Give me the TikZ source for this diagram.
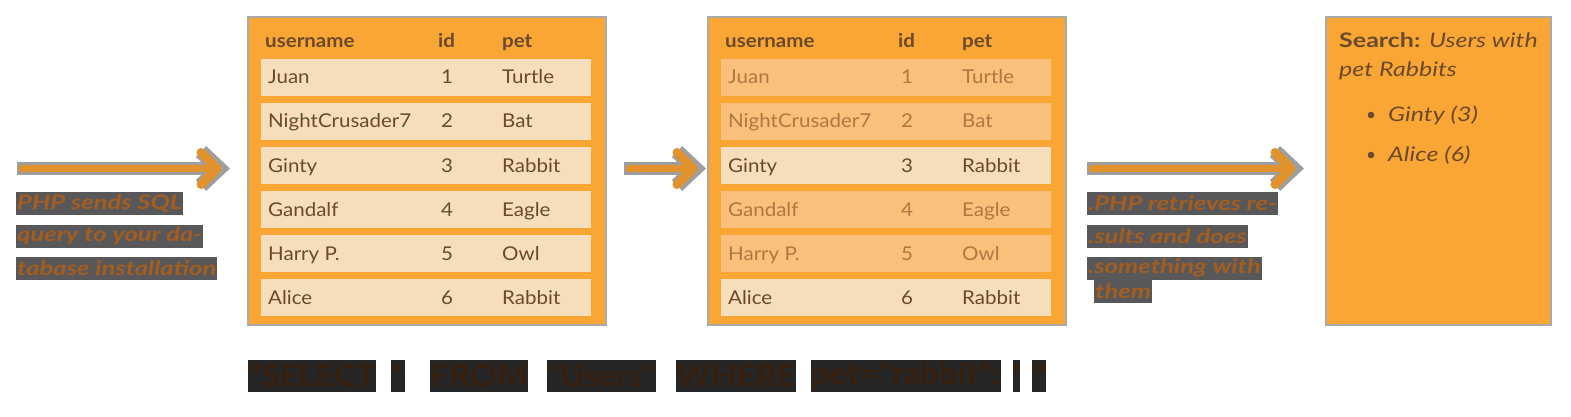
\documentclass[tikz,border=0pt]{standalone}
\usepackage{fontspec}
\setmainfont{Lato}
\newfontfamily\tabfont[FakeStretch=1.08]{Lato}
\newfontfamily\resfont[FakeStretch=1.25]{Lato}
\newfontfamily\capfont[FakeStretch=1.28]{Lato}
\newfontfamily\sqlfont[FakeStretch=1.1]{Lato}
\usetikzlibrary{calc}
\definecolor{org}{HTML}{F9A634}
\definecolor{frame}{HTML}{AAAAAA}
\definecolor{rowlight}{HTML}{F6DDBB}
\definecolor{rowfade}{HTML}{F8C07A}
\definecolor{txt}{HTML}{6B4A2C}
\definecolor{txtfade}{HTML}{AE7840}
\definecolor{arrorg}{HTML}{E2922C}
\definecolor{arrgray}{HTML}{9E9E9E}
\definecolor{capgray}{HTML}{58585A}
\definecolor{captxt}{HTML}{A35E20}
\definecolor{sqlbg}{HTML}{262626}
\definecolor{sqltxt}{HTML}{35200F}
\tikzset{
  panel/.style={draw=frame,line width=2pt,fill=org,minimum width=358pt,minimum height=308pt,inner sep=0pt},
  cell/.style={anchor=base west,inner sep=0pt,font=\tabfont\fontsize{19}{21}\selectfont,text=txt},
  fcell/.style={cell,text=txtfade},
  hcell/.style={cell,font=\tabfont\fontsize{19}{21}\selectfont\bfseries},
  capline/.style={anchor=west,fill=capgray,text=captxt,inner xsep=1pt,inner ysep=0pt,minimum height=23pt,font=\capfont\fontsize{20}{22}\selectfont\itshape\bfseries},
  sqlword/.style={anchor=west,fill=sqlbg,text=sqltxt,inner xsep=0pt,inner ysep=0pt,minimum height=32pt,font=\sqlfont\fontsize{30}{32}\selectfont\bfseries},
  restxt/.style={anchor=base west,inner sep=0pt,text=txt,font=\resfont\fontsize{20}{22}\selectfont}
}
\newcommand\fatarrow[2]{%
  \draw[arrgray,line width=13pt] (#1) -- ($(#2)+(-8,0)$);
  \draw[arrgray,line width=15pt,line join=miter] ($(#2)+(-22,-17)$) -- ($(#2)+(-4,0)$) -- ($(#2)+(-22,17)$);
  \draw[arrorg,line width=7pt,line cap=round] ($(#1)+(5,0)$) -- ($(#2)+(-10,0)$);
  \draw[arrorg,line width=9pt,line cap=round,line join=round] ($(#2)+(-22,-16)$) -- ($(#2)+(-6,0)$) -- ($(#2)+(-22,16)$);
}
\begin{document}
\begin{tikzpicture}[x=1pt,y=-1pt]
\useasboundingbox (0,0) rectangle (1571,417);
% panels
\node[panel] (t1) at (427,171) {};
\node[panel] (t2) at (887,171) {};
\node[panel,minimum width=225pt] (res) at (1438.5,171) {};
% table headers
\node[hcell] (h1u) at (265,48) {username};
\node[hcell] (h1i) at (438,48) {id};
\node[hcell] (h1p) at (502,48) {pet};
\node[hcell] (h2u) at (725,48) {username};
\node[hcell] (h2i) at (898,48) {id};
\node[hcell] (h2p) at (962,48) {pet};
\foreach \n/\id/\pet/\sty [count=\k from 0] in {Juan/1/Turtle/fcell,NightCrusader7/2/Bat/fcell,Ginty/3/Rabbit/cell,Gandalf/4/Eagle/fcell,Harry P./5/Owl/fcell,Alice/6/Rabbit/cell}{
  \pgfmathsetmacro\top{59+44*\k}
  \fill[rowlight] (261,\top) rectangle ++(330,37);
  \node[cell] (a\k n) at (268,\top+25) {\n};
  \node[cell] (a\k i) at (441,\top+25) {\id};
  \node[cell] (a\k p) at (502,\top+25) {\pet};
  \edef\rc{\ifnum\pdfstrcmp{\sty}{cell}=0 rowlight\else rowfade\fi}
  \fill[\rc] (721,\top) rectangle ++(330,37);
  \node[\sty] (b\k n) at (728,\top+25) {\n};
  \node[\sty] (b\k i) at (901,\top+25) {\id};
  \node[\sty] (b\k p) at (962,\top+25) {\pet};
}
% result box
\node[restxt] (r1) at (1339,48) {\textbf{Search:} \textit{Users with}};
\node[restxt] (r2) at (1339,77) {\textit{pet Rabbits}};
\fill[txt] (1371,115) circle (3.3pt);
\node[restxt] (r3) at (1388,122) {\textit{Ginty (3)}};
\fill[txt] (1371,155) circle (3.3pt);
\node[restxt] (r4) at (1388,161) {\textit{Alice (6)}};
% arrows
\coordinate (s1) at (17,168.5);
\coordinate (e1) at ($(t1.west)+(-24,-2.5)$);
\fatarrow{s1}{e1}
\coordinate (s2) at ($(t1.east)+(17,-2.5)$);
\coordinate (e2) at ($(t2.west)+(-8,-2.5)$);
\fatarrow{s2}{e2}
\coordinate (s3) at ($(t2.east)+(20,-2.5)$);
\coordinate (e3) at ($(res.west)+(-28,-2.5)$);
\fatarrow{s3}{e3}
% captions
\node[capline] (c1) at (16,203.5) {PHP sends SQL};
\node[capline] (c2) at (16,236) {query to your da-};
\node[capline] (c3) at (16,268) {tabase installation};
\node[capline] (d1) at (1087,203.5) {.PHP retrieves re-};
\node[capline] (d2) at (1087,236) {.sults and does};
\node[capline] (d3) at (1087,268) {.something with};
\node[capline] (d4) at (1094,291) {them};
% SQL
\node[sqlword] (q1) at (248,376) {"SELECT};
\node[sqlword] (q2) at ($(q1.east)+(15,0)$) {*};
\node[sqlword] (q3) at ($(q2.east)+(25,0)$) {FROM};
\node[sqlword] (q4) at ($(q3.east)+(19,0)$) {"Users"};
\node[sqlword] (q5) at ($(q4.east)+(20,0)$) {WHERE};
\node[sqlword] (q6) at ($(q5.east)+(15,0)$) {pet="rabbit";};
\node[sqlword] (q7) at ($(q6.east)+(12,0)$) {'};
\node[sqlword] (q8) at ($(q7.east)+(12,0)$) {"};
\end{tikzpicture}
\end{document}
